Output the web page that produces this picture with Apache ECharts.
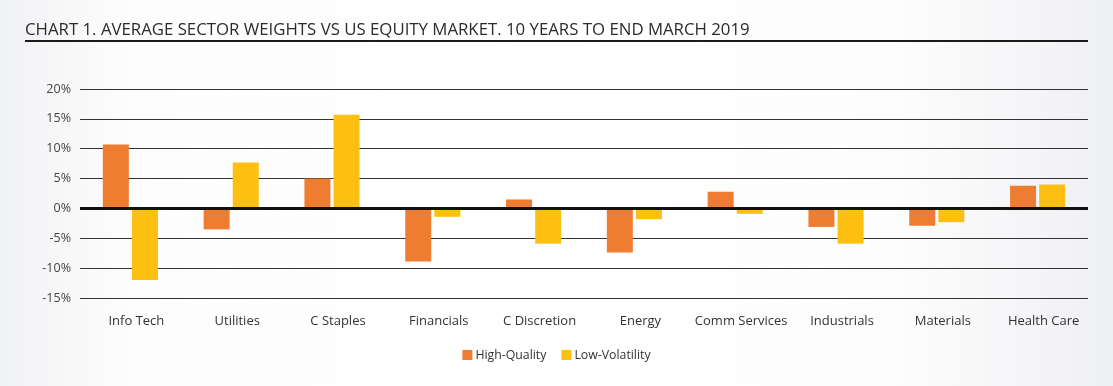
<!DOCTYPE html>
<html><head><meta charset="utf-8">
<script src="https://cdn.jsdelivr.net/npm/echarts@6/dist/echarts.min.js"></script>
<style>
html,body{margin:0;padding:0;}
body{background:linear-gradient(to right,#f1f2f4 0%,#fdfdfd 12%,#ffffff 50%,#fdfdfd 80%,#eff0f3 100%);}
#c{width:1113px;height:386px;}
</style></head>
<body><div id="c"></div>
<script>
const categories = ['Info Tech','Utilities','C Staples','Financials','C Discretion','Energy','Comm Services','Industrials','Materials','Health Care'];
const highQuality = [10.7, -3.5, 5.0, -8.9, 1.5, -7.4, 2.8, -3.1, -2.9, 3.8];
const lowVolatility = [-12.0, 7.7, 15.7, -1.4, -5.9, -1.8, -0.9, -5.9, -2.3, 4.0];
const seriesNames = ['High-Quality','Low-Volatility'];
const titleText = 'CHART 1. AVERAGE SECTOR WEIGHTS VS US EQUITY MARKET. 10 YEARS TO END MARCH 2019';

const chart = echarts.init(document.getElementById('c'));
const font = '"Open Sans", "Noto Sans", sans-serif';
chart.setOption({
  backgroundColor: 'transparent',
  animation: false,
  title: {
    text: titleText, left: 20, top: 17,
    textStyle: {fontFamily: font, fontSize: 16.8, fontWeight: 'normal', color: '#2b2b2b'}
  },
  graphic: [{
    type: 'line', shape: {x1: 25, y1: 41, x2: 1088, y2: 41},
    style: {stroke: '#1a1a1a', lineWidth: 2}
  }],
  legend: {
    bottom: 20, left: 'center', itemWidth: 10, itemHeight: 10, itemGap: 15,
    icon: 'rect',
    textStyle: {fontFamily: font, fontSize: 12.3, color: '#333', padding: [0, 0, 0, -2]},
    data: seriesNames
  },
  grid: {left: 80, right: 25, top: 89, bottom: 88},
  xAxis: {
    type: 'category', data: categories,
    axisLine: {show: false, onZero: false},
    axisTick: {show: false},
    axisLabel: {fontFamily: font, fontSize: 13, color: '#333', margin: 17, interval: 0, padding: [0, 0, 0, 12]},
    position: 'bottom'
  },
  yAxis: {
    type: 'value', min: -15, max: 20, interval: 5,
    axisLine: {show: false}, axisTick: {show: false},
    axisLabel: {fontFamily: font, fontSize: 12.5, color: '#444', margin: 9, formatter: v => v + '%'},
    splitLine: {lineStyle: {color: '#333', width: 1}}
  },
  series: [
    {name: seriesNames[0], type: 'bar', data: highQuality, barWidth: 26, barGap: '12%', itemStyle: {color: '#ef7d31'},
      markLine: {silent: true, symbol: 'none', label: {show: false}, z: 10,
        lineStyle: {color: '#111', width: 3, type: 'solid'}, data: [{yAxis: 0}]}},
    {name: seriesNames[1], type: 'bar', data: lowVolatility, barWidth: 26, itemStyle: {color: '#fcbf12'}}
  ]
});
</script></body></html>
